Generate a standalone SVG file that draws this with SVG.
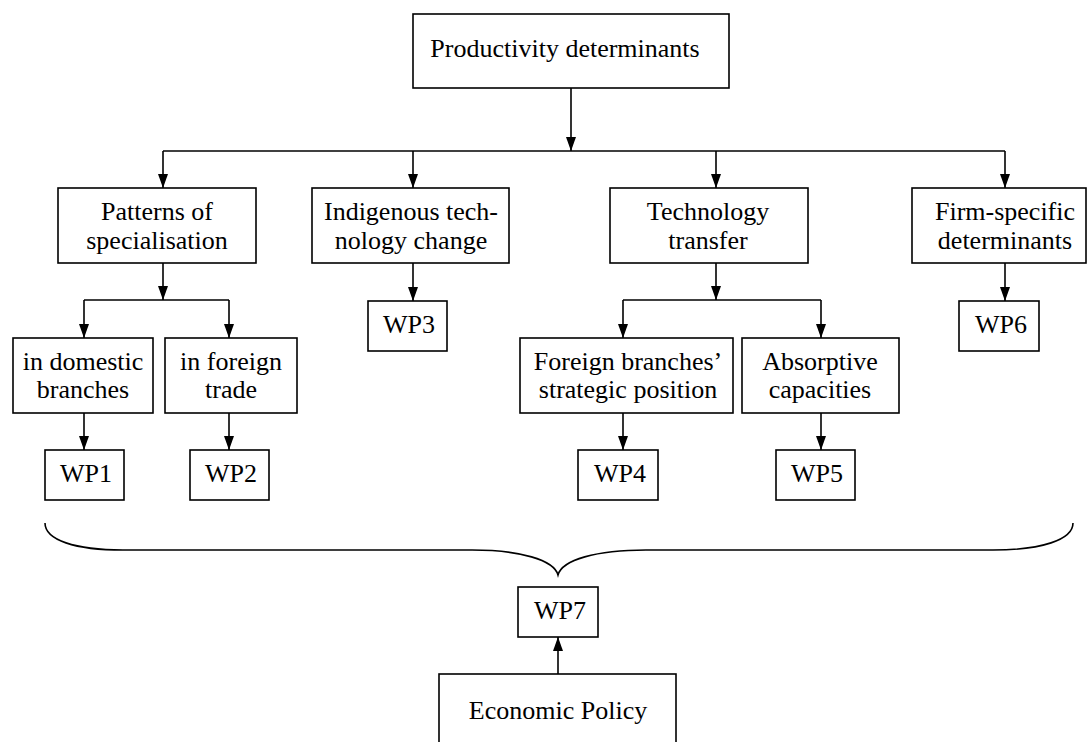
<svg xmlns="http://www.w3.org/2000/svg" width="1087" height="742" viewBox="0 0 1087 742">
  <style>
    .box { fill: #ffffff; stroke: #000000; stroke-width: 1.6; }
    .lbl { font-family: "Liberation Serif", "Times New Roman", serif; font-size: 26px; fill: #000000; text-anchor: middle; }
    .wire { fill: none; stroke: #000000; stroke-width: 1.6; }
    .arr { marker-end: url(#head); }
  </style>
  <defs>
    <marker id="head" viewBox="0 0 14 10" refX="14" refY="5" markerWidth="14" markerHeight="10" markerUnits="userSpaceOnUse" orient="auto">
      <path d="M0,0 L14,5 L0,10 Z" fill="#000000"/>
    </marker>
  </defs>
  <rect width="1087" height="742" fill="#ffffff"/>

  <!-- connectors -->
  <g id="connectors">
    <path class="wire arr" d="M571,88 V151"/>
    <path class="wire" d="M163,151 H1005"/>
    <path class="wire arr" d="M163,151 V188"/>
    <path class="wire arr" d="M413,151 V188"/>
    <path class="wire arr" d="M716,151 V188"/>
    <path class="wire arr" d="M1005,151 V188"/>

    <path class="wire arr" d="M163,263 V300"/>
    <path class="wire" d="M84,300 H229"/>
    <path class="wire arr" d="M84,300 V338"/>
    <path class="wire arr" d="M229,300 V338"/>
    <path class="wire arr" d="M84,413 V450"/>
    <path class="wire arr" d="M229,413 V450"/>

    <path class="wire arr" d="M413,263 V301"/>

    <path class="wire arr" d="M716,263 V300"/>
    <path class="wire" d="M623,300 H821"/>
    <path class="wire arr" d="M623,300 V338"/>
    <path class="wire arr" d="M821,300 V338"/>
    <path class="wire arr" d="M623,413 V450"/>
    <path class="wire arr" d="M821,413 V450"/>

    <path class="wire arr" d="M1005,263 V301"/>

    <!-- curly brace gathering WP1–WP6 -->
    <path class="wire" d="M45,523 C45,540 75,550 123,550 L472,550 C520,550 554,560 558,575 C562,560 596,550 646,550 L993,550 C1041,550 1073,540 1073,523"/>

    <path class="wire arr" d="M558,674 V637"/>
  </g>

  <g id="n-productivity">
    <rect class="box" x="413" y="14" width="316" height="74"/>
    <text class="lbl" x="565" y="57">Productivity determinants</text>
  </g>

  <g id="n-patterns">
    <rect class="box" x="58" y="188" width="198" height="75"/>
    <text class="lbl" x="157" y="220">Patterns of</text>
    <text class="lbl" x="157" y="249">specialisation</text>
  </g>
  <g id="n-indigenous">
    <rect class="box" x="312" y="188" width="197" height="75"/>
    <text class="lbl" x="411" y="220">Indigenous tech-</text>
    <text class="lbl" x="411" y="249">nology change</text>
  </g>
  <g id="n-transfer">
    <rect class="box" x="610" y="188" width="198" height="75"/>
    <text class="lbl" x="708" y="220">Technology</text>
    <text class="lbl" x="708" y="249">transfer</text>
  </g>
  <g id="n-firm">
    <rect class="box" x="912" y="188" width="174" height="75"/>
    <text class="lbl" x="1005" y="220">Firm-specific</text>
    <text class="lbl" x="1005" y="249">determinants</text>
  </g>

  <g id="n-domestic">
    <rect class="box" x="13" y="338" width="140" height="75"/>
    <text class="lbl" x="83" y="370">in domestic</text>
    <text class="lbl" x="83" y="398">branches</text>
  </g>
  <g id="n-foreign-trade">
    <rect class="box" x="165" y="338" width="132" height="75"/>
    <text class="lbl" x="231" y="370">in foreign</text>
    <text class="lbl" x="231" y="398">trade</text>
  </g>
  <g id="n-foreign-branches">
    <rect class="box" x="520" y="338" width="213" height="75"/>
    <text class="lbl" x="628" y="370">Foreign branches’</text>
    <text class="lbl" x="628" y="398">strategic position</text>
  </g>
  <g id="n-absorptive">
    <rect class="box" x="742" y="338" width="157" height="75"/>
    <text class="lbl" x="820" y="370">Absorptive</text>
    <text class="lbl" x="820" y="398">capacities</text>
  </g>

  <g id="n-wp1">
    <rect class="box" x="45" y="450" width="79" height="50"/>
    <text class="lbl" x="86" y="482">WP1</text>
  </g>
  <g id="n-wp2">
    <rect class="box" x="190" y="450" width="79" height="50"/>
    <text class="lbl" x="231" y="482">WP2</text>
  </g>
  <g id="n-wp3">
    <rect class="box" x="368" y="301" width="79" height="50"/>
    <text class="lbl" x="409" y="333">WP3</text>
  </g>
  <g id="n-wp4">
    <rect class="box" x="578" y="450" width="80" height="50"/>
    <text class="lbl" x="620" y="482">WP4</text>
  </g>
  <g id="n-wp5">
    <rect class="box" x="776" y="450" width="79" height="50"/>
    <text class="lbl" x="817" y="482">WP5</text>
  </g>
  <g id="n-wp6">
    <rect class="box" x="959" y="301" width="80" height="50"/>
    <text class="lbl" x="1001" y="333">WP6</text>
  </g>
  <g id="n-wp7">
    <rect class="box" x="518" y="587" width="80" height="50"/>
    <text class="lbl" x="560" y="619">WP7</text>
  </g>

  <g id="n-policy">
    <rect class="box" x="439" y="674" width="237" height="90"/>
    <text class="lbl" x="558" y="719">Economic Policy</text>
  </g>
</svg>
